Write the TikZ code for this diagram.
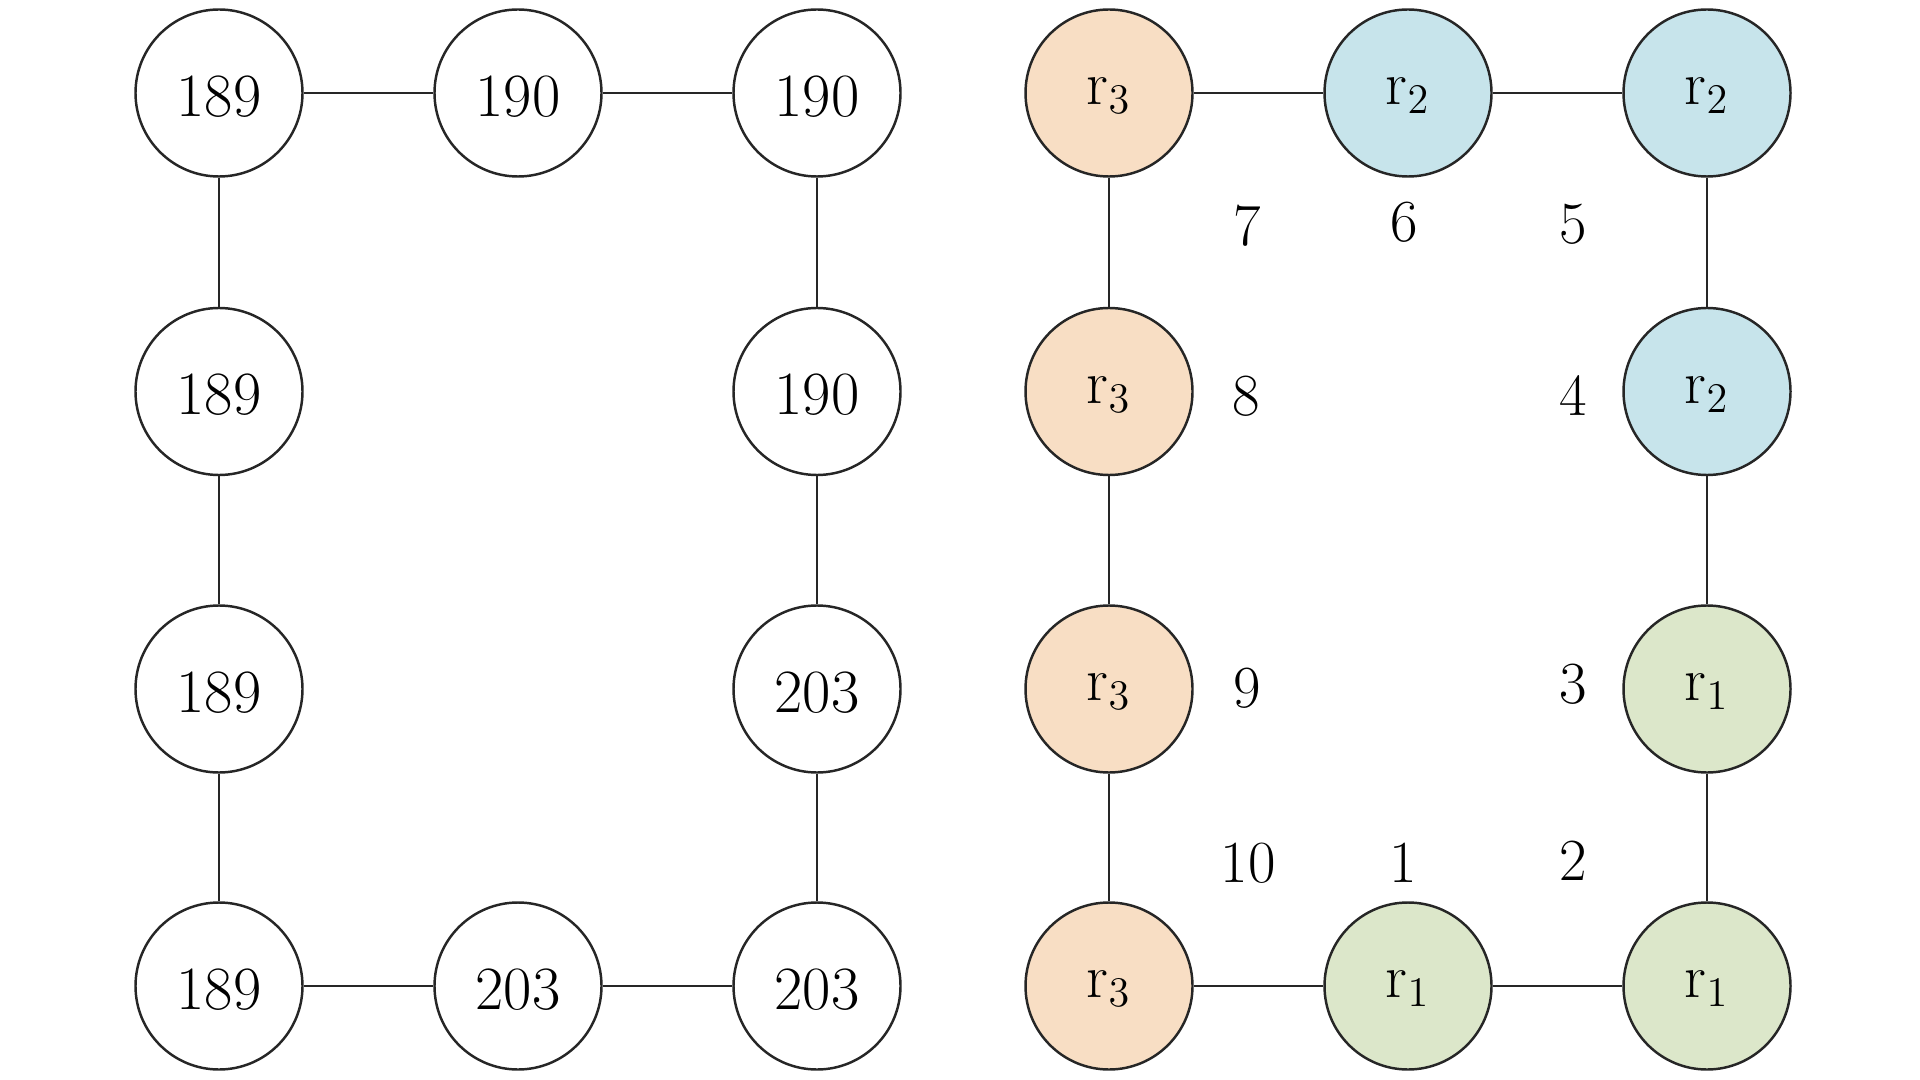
\documentclass[tikz,border=0pt]{standalone}
\usepackage{fontspec}
\setmainfont{Latin Modern Roman}
\definecolor{peach}{HTML}{F8DEC4}
\definecolor{skyb}{HTML}{C7E4EB}
\definecolor{sage}{HTML}{DCE7CA}
\begin{document}
\begin{tikzpicture}[x=1cm,y=1cm,
  basecell/.style={circle,draw=black!85,line width=0.7pt,minimum size=1.67cm,inner sep=0pt,font=\fontsize{17.5}{21}\selectfont},
  cell/.style={basecell,text height=13.3pt,text depth=0pt},
  rcell/.style={basecell,text height=9.2pt},
  orn/.style={rcell,fill=peach},
  blu/.style={rcell,fill=skyb},
  grn/.style={rcell,fill=sage},
  edge/.style={draw=black!85,line width=0.6pt},
  lab/.style={font=\fontsize{17}{21}\selectfont,inner sep=0pt}]
\useasboundingbox (0,0) rectangle (19.2,-10.8);
% left grid
\node[cell] (a1) at (2.19,-0.93) {189};
\node[cell] (a2) at (5.18,-0.93) {190};
\node[cell] (a3) at (8.17,-0.93) {190};
\node[cell] (b1) at (2.19,-3.915) {189};
\node[cell] (b3) at (8.17,-3.915) {190};
\node[cell] (c1) at (2.19,-6.89) {189};
\node[cell] (c3) at (8.17,-6.89) {203};
\node[cell] (d1) at (2.19,-9.86) {189};
\node[cell] (d2) at (5.18,-9.86) {203};
\node[cell] (d3) at (8.17,-9.86) {203};
\path[edge] (a1)--(a2) (a2)--(a3) (a1)--(b1) (b1)--(c1) (c1)--(d1) (d1)--(d2) (d2)--(d3) (a3)--(b3) (b3)--(c3) (c3)--(d3);
% right grid
\node[orn] (e1) at (11.09,-0.93) {r$_3$};
\node[blu] (e2) at (14.08,-0.93) {r$_2$};
\node[blu] (e3) at (17.07,-0.93) {r$_2$};
\node[orn] (f1) at (11.09,-3.915) {r$_3$};
\node[blu] (f3) at (17.07,-3.915) {r$_2$};
\node[orn] (g1) at (11.09,-6.89) {r$_3$};
\node[grn] (g3) at (17.07,-6.89) {r$_1$};
\node[orn] (h1) at (11.09,-9.86) {r$_3$};
\node[grn] (h2) at (14.08,-9.86) {r$_1$};
\node[grn] (h3) at (17.07,-9.86) {r$_1$};
\path[edge] (e1)--(e2) (e2)--(e3) (e1)--(f1) (f1)--(g1) (g1)--(h1) (h1)--(h2) (h2)--(h3) (e3)--(f3) (f3)--(g3) (g3)--(h3);
% labels
\node[lab] (l7) at (12.475,-2.26) {7};
\node[lab] (l6) at (14.04,-2.22) {6};
\node[lab] (l5) at (15.73,-2.24) {5};
\node[lab] (l8) at (12.46,-3.965) {8};
\node[lab] (l4) at (15.73,-3.955) {4};
\node[lab] (l9) at (12.47,-6.885) {9};
\node[lab] (l3) at (15.73,-6.845) {3};
\node[lab] (l10) at (12.48,-8.63) {10};
\node[lab] (l1) at (14.03,-8.63) {1};
\node[lab] (l2) at (15.73,-8.605) {2};
\end{tikzpicture}
\end{document}
